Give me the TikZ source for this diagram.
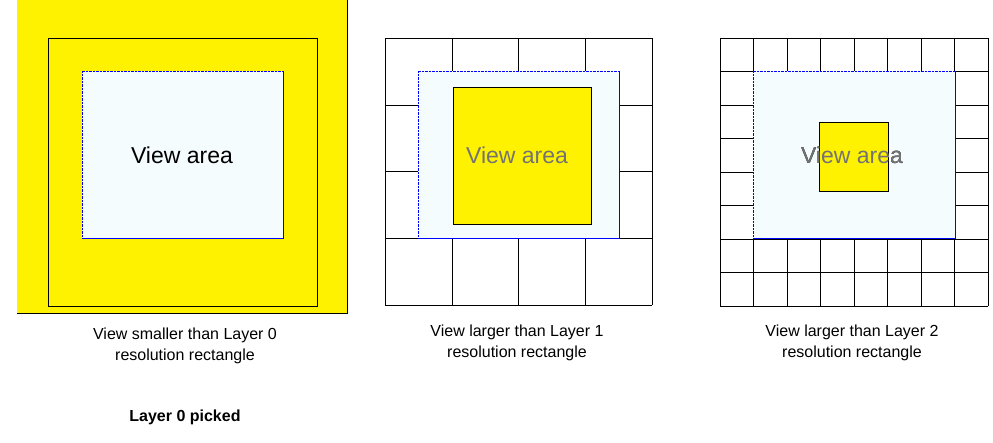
\documentclass[tikz,border=0pt]{standalone}
\usepackage{fontspec}
\setmainfont{Liberation Sans}
\begin{document}
\begin{tikzpicture}[x=1pt,y=-1pt,
  view/.style={fill=cyan!4},
  yel/.style={fill=yellow,draw=black},
  captxt/.style={align=center,font=\fontsize{16}{21}\selectfont},
  va/.style={font=\fontsize{23}{26}\selectfont}]
\useasboundingbox (0,0) rectangle (993,443);
% Panel 1
\fill[yellow] (17,0) rectangle (347,313);
\draw (347,0) -- (347,313) -- (17,313);
\draw (48,38) rectangle (317,306);
\fill[view] (82,71) rectangle (283,238);
\draw[blue,densely dotted] (82,238) -- (82,71) -- (283,71);
\draw[blue] (283,71) -- (283,238) -- (82,238);
\node[va] (v1) at (182,155) {View area};
% Panel 2
\foreach \i in {0,...,4} {
  \draw (385+66.75*\i,38) -- (385+66.75*\i,305);
  \draw (385,38+66.75*\i) -- (652,38+66.75*\i);
}
\fill[view] (418,71) rectangle (619,238);
\draw[blue,densely dotted] (418,238) -- (418,71) -- (619,71);
\draw[blue] (619,71) -- (619,238) -- (418,238);
\node[va] (v2) at (517,155) {View area};
\draw[yel] (453,87) rectangle (591,224);
\node[va,text=black!55] (v2b) at (517,155) {View area};
% Panel 3
\foreach \i in {0,...,8} {
  \draw (720+33.5*\i,38) -- (720+33.5*\i,306);
  \draw (720,38+33.5*\i) -- (988,38+33.5*\i);
}
\fill[view] (753,71) rectangle (955,238);
\draw[blue,densely dotted] (753,238) -- (753,71) -- (955,71);
\draw[blue,thick] (955,71) -- (955,238) -- (753,238);
\node[va] (v3) at (852,155) {View area};
\draw[yel] (819,122) rectangle (888,191);
\node[va,text=black!55] (v3b) at (852,155) {View area};
% captions
\node[captxt] (c1) at (185,346) {View smaller than Layer 0\\resolution rectangle};
\node[captxt] (c2) at (517,343) {View larger than Layer 1\\resolution rectangle};
\node[captxt] (c3) at (852,343) {View larger than Layer 2\\resolution rectangle};
\node[captxt,font=\bfseries\fontsize{16}{21}\selectfont] (p) at (185,417) {Layer 0 picked};
\end{tikzpicture}
\end{document}
